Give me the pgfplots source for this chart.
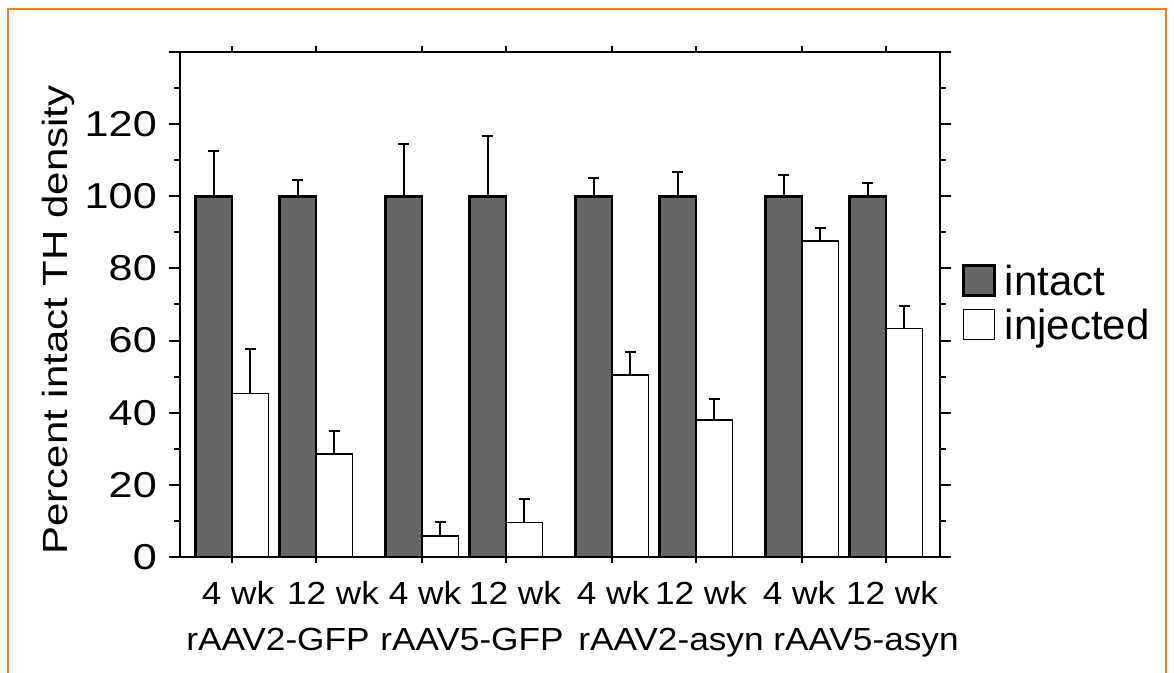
\documentclass[border=0pt]{standalone}
\usepackage{pgfplots}
\pgfplotsset{compat=1.18}
\usepackage{fontspec}
\setmainfont{Liberation Sans}
\usepackage{graphicx}
\definecolor{frameor}{RGB}{237,125,49}
\definecolor{bargray}{RGB}{102,102,102}
\newcommand\sy[1]{\scalebox{1.2}[1]{#1}}
\newcommand\sx[1]{\scalebox{1.1}[1]{#1}}
\begin{document}
\begin{tikzpicture}[x=1pt,y=1pt]
\path[use as bounding box] (0,0) rectangle (1174,672);
\draw[frameor, line width=2.5pt] (8,-5) -- (8,663) -- (1166,663) -- (1166,-5);
\begin{axis}[
  at={(180pt,115pt)}, anchor=south west,
  scale only axis, width=760pt, height=505pt,
  xmin=180, xmax=940, ymin=0, ymax=140,
  axis line style={line width=2pt},
  every tick/.style={black, line width=2pt},
  major tick length=11pt, minor tick length=6pt,
  tick align=outside,
  xtick=\empty,
  extra x ticks={232,316,422,506,612,696,802,886},
  extra x tick labels={},
  extra x tick style={major tick length=5.5pt},
  ytick={0,20,...,140},
  yticklabels={\sy{0},\sy{20},\sy{40},\sy{60},\sy{80},\sy{100},\sy{120},{}},
  minor ytick={10,30,...,130},
  /pgf/number format/assume math mode=true,
  yticklabel style={font=\fontsize{36}{40}\selectfont, inner sep=0pt, anchor=east, xshift=-12pt},
  legend style={at={(axis description cs:1.0289,0.580)}, anchor=north west,
    draw=none, fill=none, inner sep=0pt, row sep=4pt, column sep=9pt,
    font=\fontsize{42}{48}\selectfont,
    nodes={inner sep=0pt, text height=31pt, text depth=9pt}},
  legend cell align=left,
  legend image code/.code={\draw[#1] (0pt,-11pt) rectangle (31pt,19pt);},
]
\addplot[ybar, bar width=36.5, bar shift=0pt, fill=bargray, draw=black, line width=2.5pt,
  error bars/.cd, y dir=plus, y explicit, error mark=-,
  error bar style={line width=2pt, black},
  error mark options={rotate=90, line width=2pt, mark size=5.5pt, black}]
coordinates {
(213.75,100) +- (0,12.5)
(297.75,100) +- (0,4.4)
(403.75,100) +- (0,14.6)
(487.75,100) +- (0,16.8)
(593.75,100) +- (0,5.1)
(677.75,100) +- (0,6.6)
(783.75,100) +- (0,5.8)
(867.75,100) +- (0,3.7)
};
\addlegendentry{intact}
\addplot[ybar, bar width=36.5, bar shift=0pt, fill=white, draw=black, line width=1.6pt,
  error bars/.cd, y dir=plus, y explicit, error mark=-,
  error bar style={line width=2pt, black},
  error mark options={rotate=90, line width=2pt, mark size=5.5pt, black}]
coordinates {
(250.25,45.3) +- (0,12.3)
(334.25,28.5) +- (0,6.5)
(440.25,5.9) +- (0,3.7)
(524.25,9.6) +- (0,6.5)
(630.25,50.5) +- (0,6.4)
(714.25,38.0) +- (0,5.9)
(820.25,87.6) +- (0,3.6)
(904.25,63.4) +- (0,6.1)
};
\addlegendentry{injected}
\end{axis}
\node[rotate=90, anchor=base, font=\fontsize{35}{40}\selectfont] at (67,352) {\scalebox{1.2}[1]{Percent intact TH density}};
\begin{scope}[every node/.style={anchor=base, font=\fontsize{32}{36}\selectfont, inner sep=0pt}]
\node at (238,68) {\sx{4 wk}};
\node at (333,68) {\sx{12 wk}};
\node at (425,68) {\sx{4 wk}};
\node at (515,68) {\sx{12 wk}};
\node at (613,68) {\sx{4 wk}};
\node at (701,68) {\sx{12 wk}};
\node at (799,68) {\sx{4 wk}};
\node at (892,68) {\sx{12 wk}};
\node at (278,22) {\sx{rAAV2-GFP}};
\node at (472,22) {\sx{rAAV5-GFP}};
\node at (671,22) {\sx{rAAV2-asyn}};
\node at (866,22) {\sx{rAAV5-asyn}};
\end{scope}
\end{tikzpicture}
\end{document}
